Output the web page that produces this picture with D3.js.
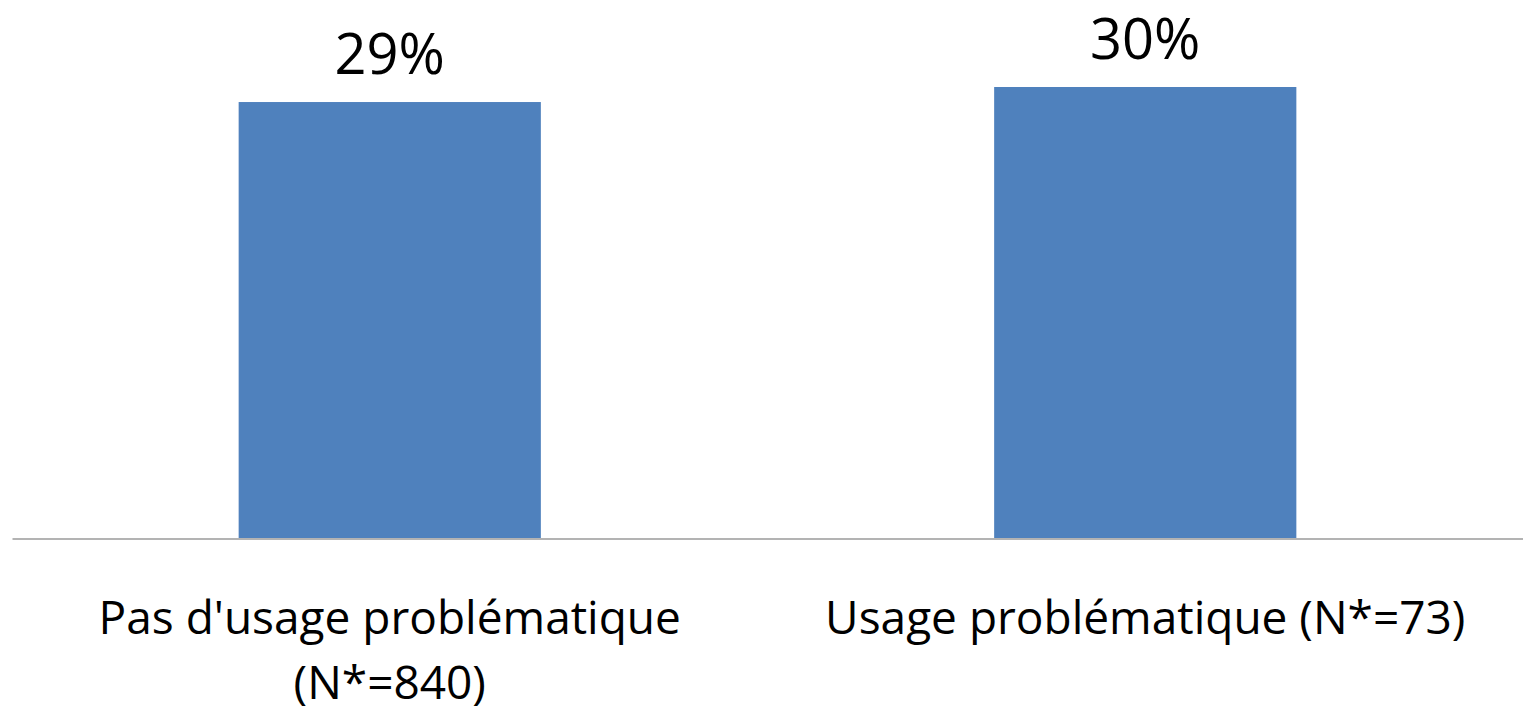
<!DOCTYPE html>
<html>
<head>
<meta charset="utf-8">
<script src="https://cdn.jsdelivr.net/npm/d3@7"></script>
<style>
  html, body { margin: 0; padding: 0; background: #ffffff; }
  svg { display: block; }
  text { font-family: "Open Sans", "Noto Sans", sans-serif; fill: #000000; }
</style>
</head>
<body>
<svg id="chart" width="1523" height="711"></svg>
<script>
// Share of respondents, by usage group (percent)
const categories = [
  ["Pas d'usage problématique", "(N*=840)"],
  ["Usage problématique (N*=73)"]
];
const values = [29, 30];

const width = 1523, height = 711;
const svg = d3.select("#chart");

const x = d3.scaleBand()
  .domain(d3.range(categories.length))
  .range([12, width])
  .paddingInner(0.6)
  .paddingOuter(0.3);

const y = d3.scaleLinear()
  .domain([0, 30])
  .range([538, 87]);

// bars
svg.append("g")
  .selectAll("rect")
  .data(values)
  .join("rect")
  .attr("x", (d, i) => x(i))
  .attr("y", d => y(d))
  .attr("width", x.bandwidth())
  .attr("height", d => y(0) - y(d))
  .attr("fill", "#4f81bd");

// baseline axis
const axis = svg.append("g")
  .attr("transform", `translate(0,${y(0) + 0.5})`)
  .call(d3.axisBottom(x).tickSize(0).tickFormat(""));
axis.select(".domain").attr("stroke", "#9a9a9a").attr("stroke-width", 1.5);

// value labels above bars
svg.append("g")
  .selectAll("text")
  .data(values)
  .join("text")
  .attr("x", (d, i) => x(i) + x.bandwidth() / 2)
  .attr("y", d => y(d) - 28)
  .attr("text-anchor", "middle")
  .style("font-size", "56px")
  .text(d => d3.format(".0f")(d) + "%");

// category labels below axis
const cat = svg.append("g")
  .selectAll("text")
  .data(categories)
  .join("text")
  .attr("x", (d, i) => x(i) + x.bandwidth() / 2)
  .attr("y", 634)
  .attr("text-anchor", "middle")
  .style("font-size", "46px");
cat.selectAll("tspan")
  .data(d => d)
  .join("tspan")
  .attr("x", function () { return this.parentNode.getAttribute("x"); })
  .attr("dy", (d, i) => i === 0 ? 0 : 65)
  .text(d => d);
</script>
</body>
</html>
